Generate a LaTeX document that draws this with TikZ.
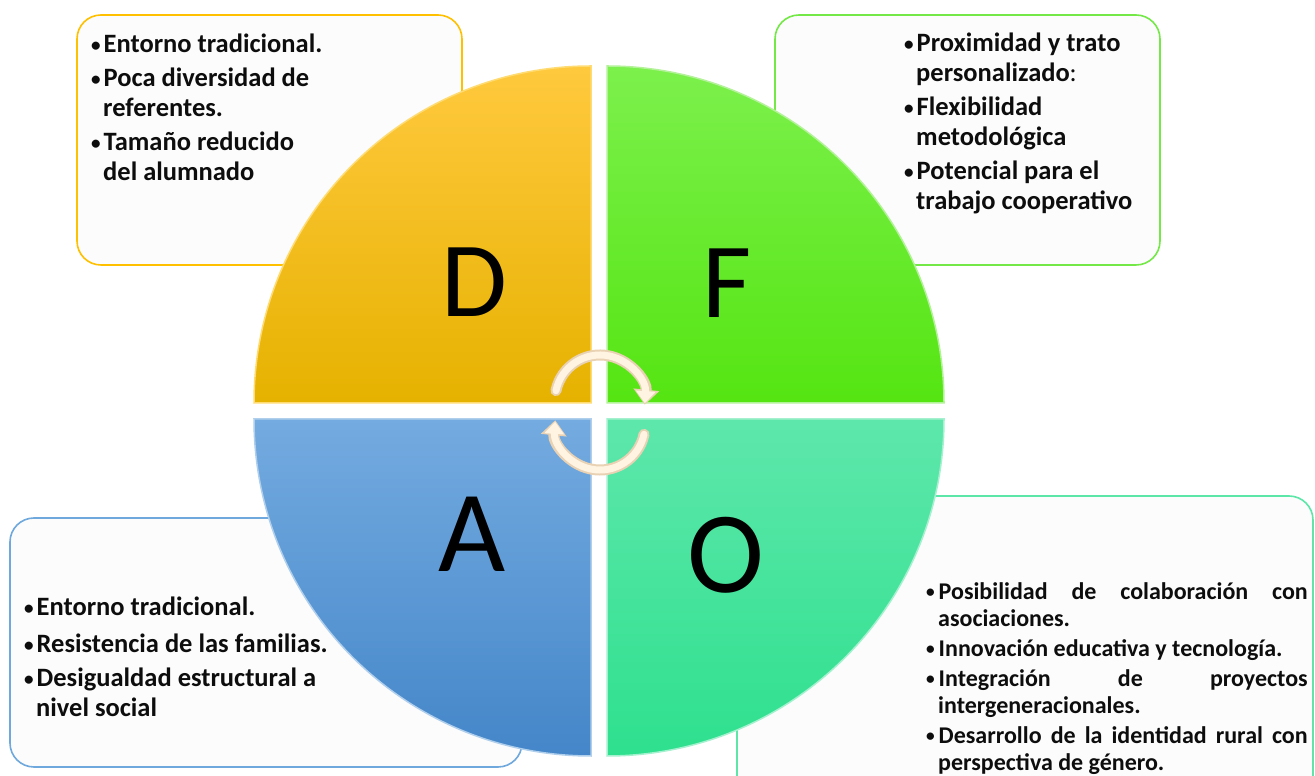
\documentclass[tikz,border=0pt]{standalone}
\usepackage{fontspec}
\setmainfont{Carlito}
\usetikzlibrary{arrows.meta}

\definecolor{dTop}{HTML}{FFC93E}
\definecolor{dBot}{HTML}{E6B200}
\definecolor{dLine}{HTML}{FFC000}
\definecolor{fTop}{HTML}{7CF04C}
\definecolor{fBot}{HTML}{55E512}
\definecolor{fLine}{HTML}{74E846}
\definecolor{aTop}{HTML}{74ABE0}
\definecolor{aBot}{HTML}{4486C9}
\definecolor{aLine}{HTML}{6FA8DC}
\definecolor{oTop}{HTML}{5EE7AB}
\definecolor{oBot}{HTML}{2EE08E}
\definecolor{oLine}{HTML}{5CE6A8}
\definecolor{cream}{HTML}{FFF3E2}
\definecolor{tan}{HTML}{E9D2B4}

\newcommand{\bul}{\makebox[12.5pt][l]{\raisebox{1.5pt}{\scalebox{0.72}{•}}}}
\newcommand{\ind}{\hspace*{12pt}}
\newcommand{\jl}[1]{\makebox[369pt][s]{#1}}

\tikzset{
    box/.style={draw=#1, line width=1.6pt, rounded corners=24pt, fill=black!1},
    quad/.style={draw=white!45!#1, line width=1.5pt},
    txt/.style={anchor=north west, inner sep=0pt, align=left, text=black!95,
        font=\bfseries\fontsize{26.5}{30}\selectfont},
    small/.style={font=\bfseries\fontsize{24}{27}\selectfont},
    big/.style={inner sep=0pt, font=\fontsize{#1}{#1}\selectfont},
    turn/.style={line width=#1, line cap=round}
}

\begin{document}
\begin{tikzpicture}[x=1pt,y=1pt]
    \useasboundingbox[fill=white] (0,0) rectangle (1315,776);

    % text boxes behind the circle
    \node[box=dLine, minimum width=385pt, minimum height=250pt] (boxD) at (269.5,636) {};
    \node[box=fLine, minimum width=385pt, minimum height=250pt] (boxF) at (967.5,636) {};
    \node[box=aLine, minimum width=512pt, minimum height=249pt] (boxA) at (266,133.5) {};
    \node[box=oLine, minimum width=576pt, minimum height=314pt] (boxO) at (1025,123) {};

    % the four quarters
    \path[quad=dLine, top color=dTop, bottom color=dBot] (591,373) -- ++(0,337)
        arc[start angle=90, end angle=180, radius=337pt] -- cycle;
    \path[quad=fLine, top color=fTop, bottom color=fBot] (607,373) -- ++(337,0)
        arc[start angle=0, end angle=90, radius=337pt] -- cycle;
    \path[quad=aLine, top color=aTop, bottom color=aBot] (591,357) -- ++(-337,0)
        arc[start angle=180, end angle=270, radius=337pt] -- cycle;
    \path[quad=oLine, top color=oTop, bottom color=oBot] (607,357) -- ++(0,-337)
        arc[start angle=270, end angle=360, radius=337pt] -- cycle;

    \node[big=107] (letD) at (474,494) {D};
    \node[big=107] (letF) at (727,493) {F};
    \node[big=116] (letA) at (472,242) {A};
    \node[big=116] (letO) at (726,221) {O};

    % circular arrows in the middle
    \draw[turn=11pt, tan, -{Triangle[width=25pt,length=15pt]}] (600,376) ++(168:45)
        arc[start angle=168, end angle=-6, radius=45pt];
    \draw[turn=7pt, cream, -{Triangle[width=19pt,length=12pt]}] (600,376) ++(168:45)
        arc[start angle=168, end angle=-4, radius=45pt];
    \draw[turn=11pt, tan, -{Triangle[width=25pt,length=15pt]}] (600,351) ++(-12:45)
        arc[start angle=-12, end angle=-186, radius=45pt];
    \draw[turn=7pt, cream, -{Triangle[width=19pt,length=12pt]}] (600,351) ++(-12:45)
        arc[start angle=-12, end angle=-184, radius=45pt];

    % texts
    \node[txt] (txtD) at (91,742) {\bul Entorno tradicional.\\[4pt]
        \bul Poca diversidad de\\ \ind referentes.\\[4pt]
        \bul Tamaño reducido\\ \ind del alumnado};
    \node[txt] (txtF) at (904,743) {\bul Proximidad y trato\\
        \ind personalizado{\mdseries :}\\[4pt]
        \bul Flexibilidad\\ \ind metodológica\\[4pt]
        \bul Potencial para el\\ \ind trabajo cooperativo};
    \node[txt] (txtA) at (24,179) {\bul Entorno tradicional.\\[7pt]
        \bul Resistencia de las familias.\\[4pt]
        \bul Desigualdad estructural a\\ \ind nivel social};
    \node[txt, small] (txtO) at (926,194) {\bul\jl{Posibilidad de colaboración con}\\
        \ind asociaciones.\\[3pt]
        \bul Innovación educativa y tecnología.\\[3pt]
        \bul\jl{Integración de proyectos}\\ \ind intergeneracionales.\\[3pt]
        \bul\jl{Desarrollo de la identidad rural con}\\ \ind perspectiva de género.};
\end{tikzpicture}
\end{document}
